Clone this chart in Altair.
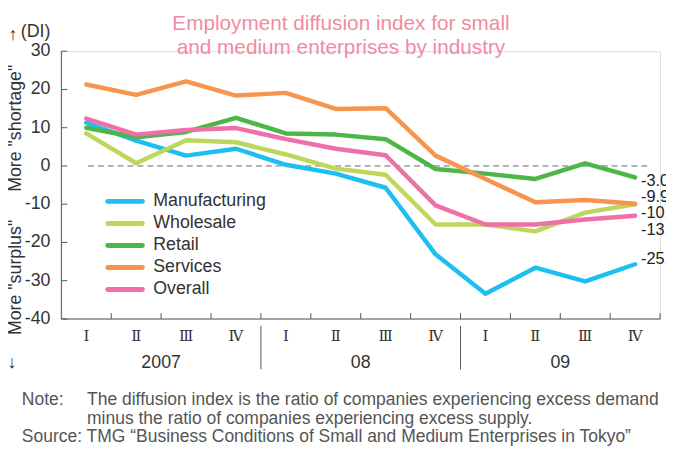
import altair as alt
import pandas as pd

# ---------------- data ----------------
years = ["2007", "08", "09"]
quarters = ["Ⅰ", "Ⅱ", "Ⅲ", "Ⅳ"]
series_names = ["Manufacturing", "Wholesale", "Retail", "Services", "Overall"]

manufacturing = [11.3, 6.6, 2.7, 4.5, 0.3, -2.0, -5.7, -23.1, -33.4, -26.6, -30.2, -25.7]
wholesale = [8.5, 0.7, 6.7, 6.2, 3.0, -0.7, -2.3, -15.3, -15.3, -17.1, -12.2, -10.0]
retail = [10.0, 7.5, 8.9, 12.6, 8.5, 8.2, 7.0, -0.8, -2.0, -3.4, 0.7, -3.0]
services = [21.3, 18.6, 22.1, 18.4, 19.1, 14.9, 15.1, 2.7, -3.4, -9.5, -8.9, -9.9]
overall = [12.4, 8.2, 9.4, 9.9, 7.0, 4.5, 2.8, -10.3, -15.3, -15.3, -14.0, -13.0]
end_labels = ["-25.7", "-10.0", "-3.0", "-9.9", "-13.0"]
y_ticks = [30, 20, 10, 0, -10, -20, -30, -40]

subtitle = ["Employment diffusion index for small", "and medium enterprises by industry"]
note_1 = "The diffusion index is the ratio of companies experiencing excess demand"
note_2 = "minus the ratio of companies experiencing excess supply."
source = "Source: TMG \u201cBusiness Conditions of Small and Medium Enterprises in Tokyo\u201d"

# ---------------- styles ----------------
colors = ["#1dbef0", "#bdd65b", "#4cb748", "#f7944f", "#ef70a8"]
label_dy = {"Manufacturing": -5, "Wholesale": 9, "Retail": 4, "Services": -7, "Overall": 15}
FONT = "Liberation Sans"
FS = 18
W, H = 606, 271
AX = "#555"

keys = [f"{y}-{q}" for y in years for q in quarters]
all_series = [manufacturing, wholesale, retail, services, overall]
rows = []
for name, vals in zip(series_names, all_series):
    for k, v in zip(keys, vals):
        rows.append({"key": k, "series": name, "value": v})
df = pd.DataFrame(rows)

end_df = pd.DataFrame({
    "key": [keys[-1]] * len(series_names),
    "series": series_names,
    "value": [s[-1] for s in all_series],
    "label": end_labels,
})

xscale = alt.Scale(type="band", domain=keys, paddingInner=0, paddingOuter=0)
yscale = alt.Scale(domain=[-40, 30], nice=False, zero=False)


def X(field="key:N", band=0.5):
    return alt.X(field, scale=xscale, bandPosition=band, axis=None)


def Y(field):
    return alt.Y(field, scale=yscale, axis=None)


lines = alt.Chart(df).mark_line(strokeWidth=4.5, strokeCap="round", strokeJoin="round").encode(
    x=X(), y=Y("value:Q"),
    color=alt.Color("series:N", scale=alt.Scale(domain=series_names, range=colors), legend=None),
)

# axes drawn from the scales
ytick_df = pd.DataFrame({"v": y_ticks, "lab": [str(v) for v in y_ticks]})
ytick_rules = alt.Chart(ytick_df).mark_rule(color=AX, strokeWidth=1).encode(
    y=Y("v:Q"), x=alt.value(0), x2=alt.value(6))
ytick_labels = alt.Chart(ytick_df).mark_text(
    font=FONT, fontSize=FS, color="#333", align="right", baseline="middle"
).encode(y=Y("v:Q"), x=alt.value(-11), text="lab:N")

xq_df = pd.DataFrame({"key": keys, "q": [k.split("-")[1] for k in keys]})
xtick_rules = alt.Chart(xq_df).mark_rule(color=AX, strokeWidth=1).encode(
    x=X(band=1), y=alt.value(H), y2=alt.value(H - 6))
xtick_labels = alt.Chart(xq_df).mark_text(
    font="DejaVu Serif", fontSize=15, color="#333", baseline="middle"
).encode(x=X(), y=alt.value(H + 17), text="q:N")

domain_y = alt.Chart(pd.DataFrame({"a": [0]})).mark_rule(color=AX, strokeWidth=1).encode(
    x=alt.value(0), y=alt.value(0), y2=alt.value(H))
domain_x = alt.Chart(pd.DataFrame({"a": [0]})).mark_rule(color=AX, strokeWidth=1).encode(
    x=alt.value(0), x2=alt.value(W), y=alt.value(H))

zero = alt.Chart(pd.DataFrame({"v": [0]})).mark_rule(
    color="#666", strokeDash=[6, 4], strokeWidth=1
).encode(y=Y("v:Q"), x=alt.value(27), x2=alt.value(596))

end_text_layers = []
for name in series_names:
    end_text_layers.append(
        alt.Chart(end_df[end_df.series == name]).mark_text(
            align="left", baseline="middle", dx=6, dy=label_dy[name],
            font=FONT, fontSize=16.5, color="#222"
        ).encode(x=X(), y=Y("value:Q"), text="label:N")
    )

year_df = pd.DataFrame({"key": [f"{y}-{quarters[2]}" for y in years], "year": years})
year_text = alt.Chart(year_df).mark_text(
    font=FONT, fontSize=FS, color="#333", baseline="middle"
).encode(x=X(band=0), y=alt.value(316), text="year:N")

sep_df = pd.DataFrame({"key": [f"{y}-{quarters[0]}" for y in years[1:]]})
seps = alt.Chart(sep_df).mark_rule(color=AX, strokeWidth=1).encode(
    x=X(band=0), y=alt.value(278), y2=alt.value(322))

# legend
legend_layers = []
for i, (name, col) in enumerate(zip(series_names, colors)):
    ly = 152 + i * 22.3
    legend_layers.append(
        alt.Chart(pd.DataFrame({"s": [name]})).mark_rule(
            color=col, strokeWidth=5, strokeCap="round"
        ).encode(x=alt.value(47), x2=alt.value(82), y=alt.value(ly)))
    legend_layers.append(
        alt.Chart(pd.DataFrame({"s": [name]})).mark_text(
            font=FONT, fontSize=FS, color="#333", align="left", baseline="middle"
        ).encode(x=alt.value(93), y=alt.value(ly), text="s:N"))


def txt(text, x, y, **kw):
    props = dict(font=FONT, fontSize=FS, color="#333", align="left", baseline="middle")
    props.update(kw)
    return alt.Chart(pd.DataFrame({"t": [text]})).mark_text(**props).encode(
        x=alt.value(x), y=alt.value(y), text="t:N")


annotations = [
    txt(subtitle[0], 283, -27, align="center", fontSize=21, color="#f28aa0"),
    txt(subtitle[1], 283, -3, align="center", fontSize=21, color="#f28aa0"),
    txt("(DI)", -41, -19),
    txt("\u2191", -49, -16, align="center", fontSize=18),
    txt("\u2193", -50, 316, align="center", fontSize=18),
    txt('More "shortage"', -46, 78, angle=270, align="center"),
    txt('More "surplus"', -46, 229, angle=270, align="center"),
    txt("Note:", -40, 353, color="#555", fontSize=17.7),
    txt(note_1, 26, 353, color="#555", fontSize=17.7),
    txt(note_2, 26, 372, color="#555", fontSize=17.7),
    txt(source, -40, 391, color="#555", fontSize=17.7),
]

chart = alt.layer(zero, lines, domain_y, domain_x, ytick_rules, ytick_labels,
                  xtick_rules, xtick_labels, seps, year_text,
                  *end_text_layers, *legend_layers, *annotations).properties(
    width=W, height=H,
    autosize=alt.AutoSizeParams(type="none"),
    padding={"left": 54, "top": 41, "right": 6, "bottom": 138},
).configure_view(strokeWidth=0).configure(background="white")

chart.save("out.html", embed_options={"renderer": "svg", "actions": False})
